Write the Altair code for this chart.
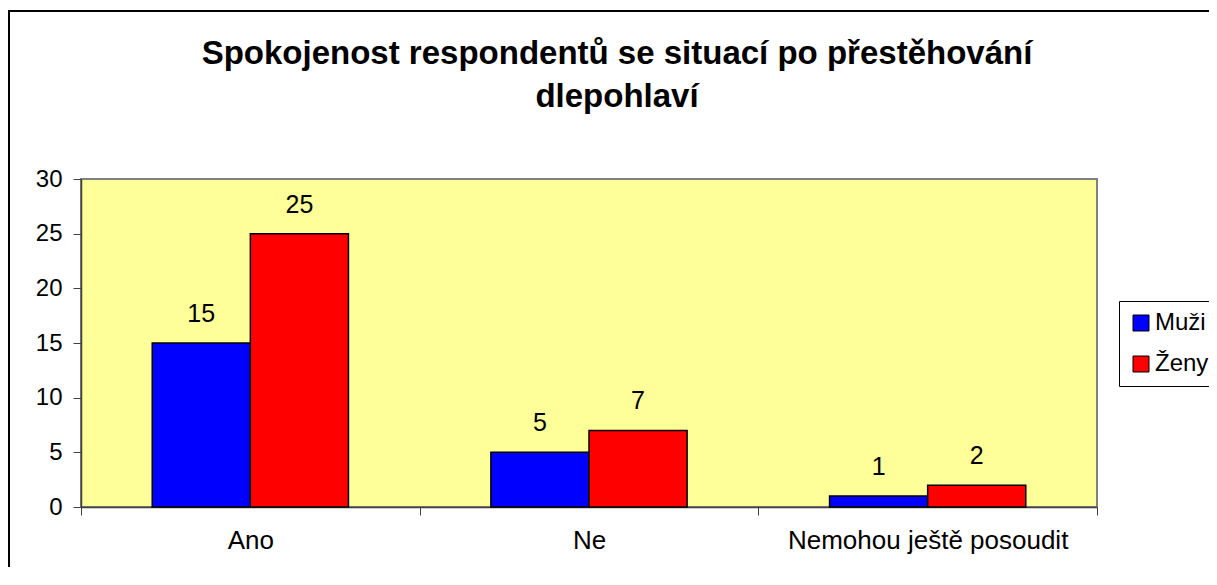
import altair as alt
import pandas as pd

kategorie = ["Ano", "Ne", "Nemohou ještě posoudit"]
pohlavi = ["Muži", "Ženy"]
muzi = [15, 5, 1]
zeny = [25, 7, 2]
barvy = ["#0000FF", "#FF0000"]
titulek = ["Spokojenost respondentů se situací po přestěhování", "dlepohlaví"]
y_ticks = [0, 5, 10, 15, 20, 25, 30]

rows = []
for i, k in enumerate(kategorie):
    rows.append({"kat": k, "pohlavi": pohlavi[0], "hodnota": muzi[i]})
    rows.append({"kat": k, "pohlavi": pohlavi[1], "hodnota": zeny[i]})
df = pd.DataFrame(rows)

FONT = "Liberation Sans"
W, H = 1016, 328

x_enc = alt.X(
    "kat:N", sort=kategorie,
    scale=alt.Scale(paddingInner=0, paddingOuter=0),
    axis=alt.Axis(title=None, labelAngle=0, tickBand="extent", tickSize=8,
                  labelPadding=12, labelFontSize=26, labelFont=FONT, labelLimit=0,
                  labelColor="black", domainColor="#404040", tickColor="#404040",
                  domainWidth=1.5, grid=False),
)
xo_enc = alt.XOffset("pohlavi:N", sort=pohlavi,
                     scale=alt.Scale(paddingInner=0, paddingOuter=0.726))
y_enc = alt.Y(
    "hodnota:Q",
    scale=alt.Scale(domain=[0, 30], nice=False),
    axis=alt.Axis(title=None, values=y_ticks, tickSize=8, labelPadding=11,
                  labelFontSize=24, labelFont=FONT, labelColor="black",
                  domainColor="#404040", tickColor="#404040", domainWidth=1.5,
                  grid=False),
)

base = alt.Chart(df)

bars = base.mark_bar(stroke="black", strokeWidth=1.5).encode(
    x=x_enc, xOffset=xo_enc, y=y_enc,
    color=alt.Color(
        "pohlavi:N", sort=pohlavi,
        scale=alt.Scale(domain=pohlavi, range=barvy),
        legend=alt.Legend(
            title=None, orient="none", legendX=1038, legendY=122,
            strokeColor="black", fillColor="white", padding=10,
            symbolType="square", symbolSize=256, symbolStrokeColor="black",
            symbolStrokeWidth=1, labelFontSize=24, labelFont=FONT,
            labelColor="black", labelOffset=2, rowPadding=17,
        ),
    ),
)

labels = base.mark_text(fontSize=25, font=FONT, color="black",
                        baseline="alphabetic", dy=-21).encode(
    x=x_enc, xOffset=xo_enc, y=y_enc, text="hodnota:Q"
)

frame_df = pd.DataFrame({"a": [0]})
frame = alt.Chart(frame_df).mark_rect(fill="transparent", stroke="black",
                                      strokeWidth=2).encode(
    x=alt.value(-72), x2=alt.value(1160), y=alt.value(-168), y2=alt.value(430)
)

t1 = alt.Chart(frame_df).mark_text(text=titulek[0], fontSize=33, font=FONT,
                                   fontWeight="bold", color="black",
                                   align="center", baseline="alphabetic").encode(
    x=alt.value(536), y=alt.value(-115)
)
t2 = alt.Chart(frame_df).mark_text(text=titulek[1], fontSize=33, font=FONT,
                                   fontWeight="bold", color="black",
                                   align="center", baseline="alphabetic").encode(
    x=alt.value(536), y=alt.value(-72)
)

chart = alt.layer(frame, bars, labels, t1, t2).properties(
    width=W, height=H,
    autosize=alt.AutoSizeParams(type="none"),
    padding={"left": 73, "top": 171, "right": 112, "bottom": 60},
    background="white",
).configure_view(fill="#FFFF99", stroke="#808080", strokeWidth=2)

chart.save("out.html", embed_options={"renderer": "svg", "actions": False})
